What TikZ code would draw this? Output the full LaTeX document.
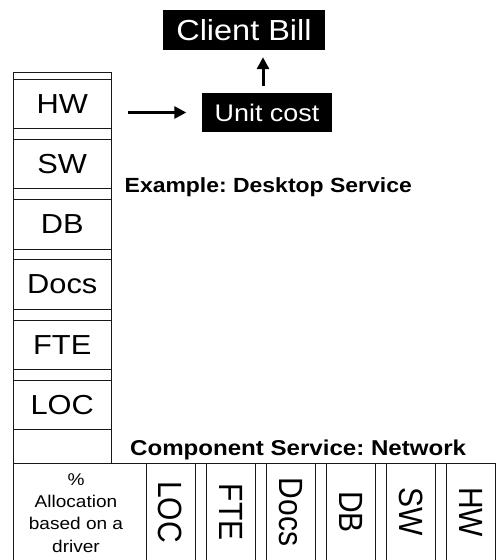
\documentclass[tikz,border=0pt]{standalone}
\usepackage{fontspec}
\usepackage{graphicx}
\setmainfont{Liberation Sans}[FakeStretch=1.12]
\newfontfamily\uprightlabel{Liberation Sans}
\usetikzlibrary{arrows.meta}
\frenchspacing
% labels turned on their side, widened across the column
\newcommand{\vlabel}[1]{\scalebox{1}[1.12]{\uprightlabel #1}}

\begin{document}
\begin{tikzpicture}[x=1pt,y=-1pt,
  grid/.style={draw=black!90, line width=1pt},
  cbox/.style={grid, rectangle, minimum width=98.5pt, minimum height=49.5pt,
    inner sep=0pt, font=\fontsize{27.5}{30}\selectfont},
  vlab/.style={rotate=-90, inner sep=0pt, font=\fontsize{30}{32}\selectfont},
  dark/.style={fill=black, text=white, inner sep=0pt},
  arr/.style={-{Triangle[length=12pt,width=12pt]}, line width=2.6pt},
  heading/.style={inner sep=0pt, anchor=base west}]
\useasboundingbox (0,0) rectangle (496,560);

% frame of the cost stack and of the bottom band
\draw[grid] (13,575) -- (13,72) -- (111.5,72) -- (111.5,463);
\draw[grid] (13,463) -- (495.5,463);

% cost elements stacked on the left
\foreach \name/\lab [count=\i from 0] in {hw/HW,sw/SW,db/DB,docs/Docs,fte/FTE,loc/LOC}
  \node[cbox] (\name) at (62.25, 104+60.2*\i) {\lab};

% component service columns along the bottom
\foreach \name/\lab [count=\i from 0] in {cloc/LOC,cfte/FTE,cdocs/Docs,cdb/DB,csw/SW,chw/HW} {
  \draw[grid] (146+60.1*\i, 575) |- (195+60.1*\i, 463) -- (195+60.1*\i, 575);
  \node[vlab] (\name) at (170.5+60.1*\i, 512) {\vlabel{\lab}};
}

% allocation driver cell
\node[align=center, font=\fontsize{17}{22.2}\selectfont, inner sep=0pt]
  (driver) at (76,513) {\%\\Allocation\\based on a\\driver};

% headings
\node[heading, font=\bfseries\fontsize{20.5}{24}\selectfont]
  (example) at (124.5,192) {Example: Desktop Service};
\node[heading, font=\bfseries\fontsize{21.5}{24}\selectfont]
  (network) at (130,455) {Component Service: Network};

% unit cost and client bill
\node[dark, minimum width=162pt, minimum height=40pt, font=\fontsize{29}{32}\selectfont]
  (bill) at (244,30) {Client Bill};
\node[dark, minimum width=130pt, minimum height=39pt, font=\fontsize{24}{28}\selectfont]
  (unit) at (267,112.5) {Unit cost};

\draw[arr, shorten <=15.5pt, shorten >=15.5pt] (hw.east |- unit.west) -- (unit.west);
\coordinate (up) at ([xshift=-4pt]unit.north);
\draw[arr, line width=3pt, shorten <=7pt, shorten >=7pt] (up) -- (up |- bill.south);
\end{tikzpicture}
\end{document}
